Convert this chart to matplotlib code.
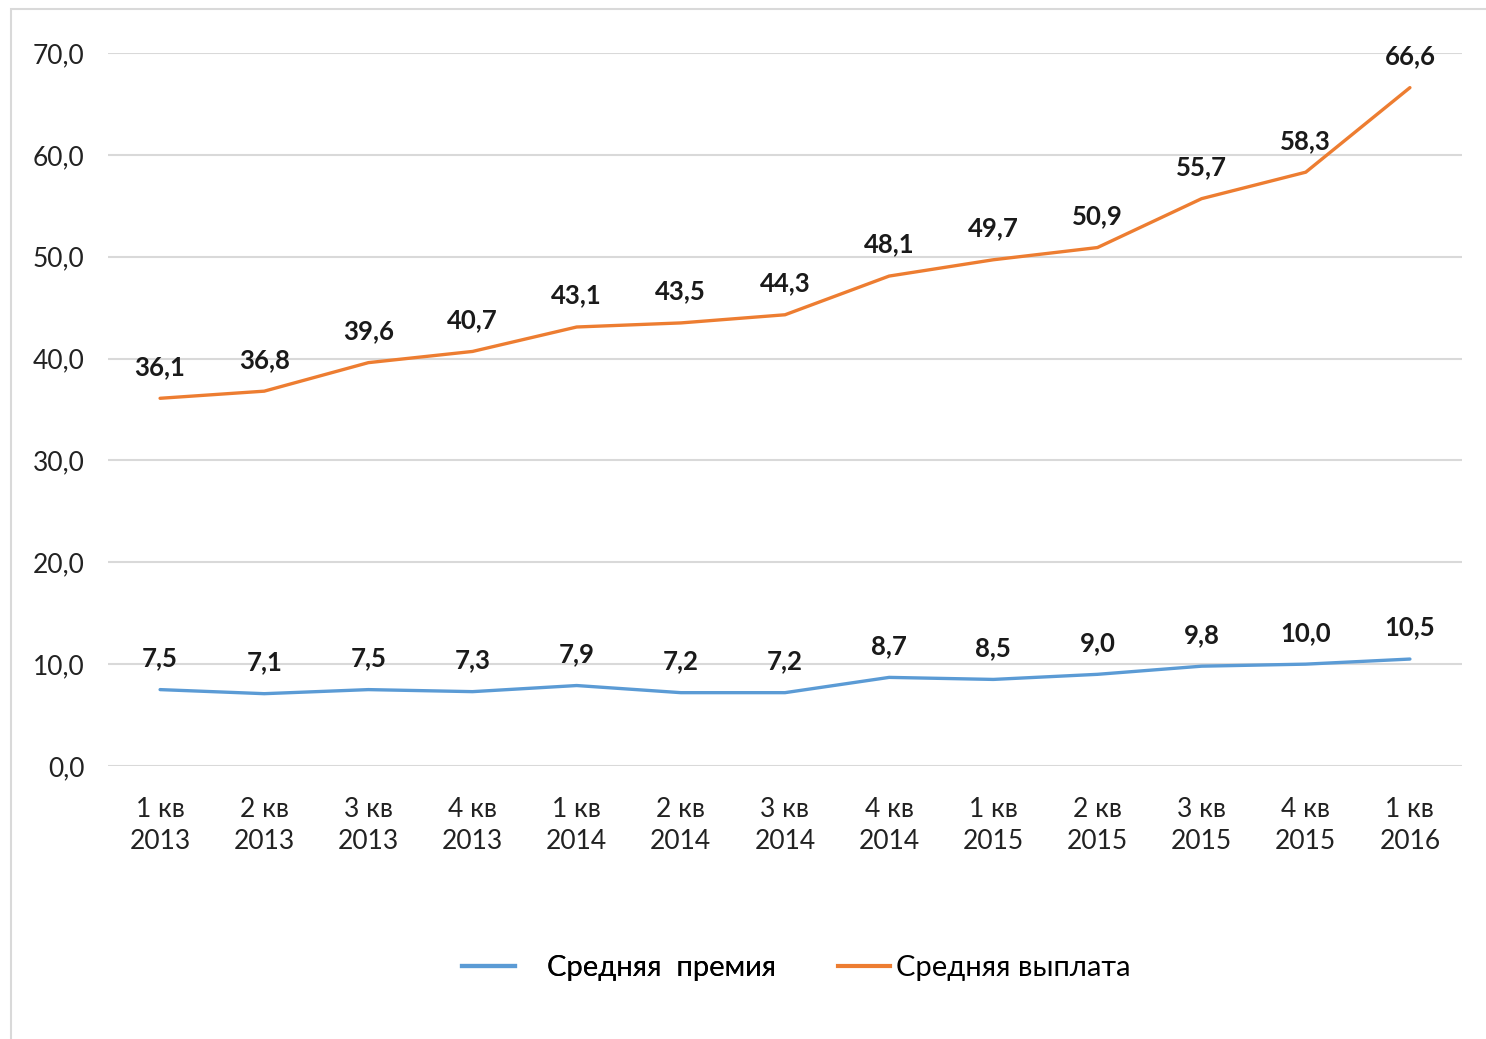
import matplotlib.pyplot as plt
import matplotlib.patches as patches
from matplotlib.lines import Line2D

quarters = ["1 кв\n2013", "2 кв\n2013", "3 кв\n2013", "4 кв\n2013",
            "1 кв\n2014", "2 кв\n2014", "3 кв\n2014", "4 кв\n2014",
            "1 кв\n2015", "2 кв\n2015", "3 кв\n2015", "4 кв\n2015",
            "1 кв\n2016"]
premium = [7.5, 7.1, 7.5, 7.3, 7.9, 7.2, 7.2, 8.7, 8.5, 9.0, 9.8, 10.0, 10.5]
payout = [36.1, 36.8, 39.6, 40.7, 43.1, 43.5, 44.3, 48.1, 49.7, 50.9, 55.7, 58.3, 66.6]
y_ticks = [0, 10, 20, 30, 40, 50, 60, 70]

blue = "#5B9BD5"
orange = "#ED7D31"

plt.rcParams['font.family'] = ['Lato', 'DejaVu Sans']

fig = plt.figure(figsize=(14.86, 10.39), dpi=100)
W, H = 1486, 1039

# outer chart border (light gray)
fig.patches.append(patches.Rectangle((11 / W, -0.1), 1.2, 1 - 9 / H + 0.1,
                                     transform=fig.transFigure, fill=False,
                                     edgecolor="#D9D9D9", linewidth=1.5))

ax = fig.add_axes([108 / W, 1 - 766 / H, (1462 - 108) / W, (766 - 53) / H])
x = list(range(len(quarters)))

ax.plot(x, premium, color=blue, linewidth=2.4, solid_capstyle='round')
ax.plot(x, payout, color=orange, linewidth=2.4, solid_capstyle='round')

def fmt(v):
    return f"{v:.1f}".replace(".", ",")

for xi, v in zip(x, premium):
    ax.annotate(fmt(v), (xi, v), xytext=(0, 14), textcoords='offset points',
                ha='center', va='bottom', fontsize=18.5, fontweight='bold', color='#1a1a1a')
for xi, v in zip(x, payout):
    ax.annotate(fmt(v), (xi, v), xytext=(0, 14), textcoords='offset points',
                ha='center', va='bottom', fontsize=18.5, fontweight='bold', color='#1a1a1a')

ax.set_xlim(-0.5, len(quarters) - 0.5)
ax.set_ylim(0, 70)
ax.set_yticks(y_ticks)
ax.set_yticklabels([fmt(v) for v in y_ticks], fontsize=19, color='#222222')
ax.set_xticks(x)
ax.set_xticklabels(quarters, fontsize=19, color='#222222', linespacing=1.35)
ax.tick_params(axis='both', length=0)
ax.tick_params(axis='x', pad=22)
ax.tick_params(axis='y', pad=17)
ax.grid(axis='y', color='#D9D9D9', linewidth=1.5)
ax.set_axisbelow(True)
for s in ax.spines.values():
    s.set_visible(False)

leg1 = fig.legend([Line2D([], [], color=blue, linewidth=3)], ["Средняя  премия"],
                  loc='center', bbox_to_anchor=(619 / W, 1 - 968 / H), frameon=False,
                  fontsize=21, handlelength=1.8, handletextpad=1.1)
leg2 = fig.legend([Line2D([], [], color=orange, linewidth=3)], ["Средняя выплата"],
                  loc='center', bbox_to_anchor=(984 / W, 1 - 968 / H), frameon=False,
                  fontsize=21, handlelength=1.8, handletextpad=0.2)
fig.add_artist(leg1)

fig.savefig("out.png", dpi=100)
